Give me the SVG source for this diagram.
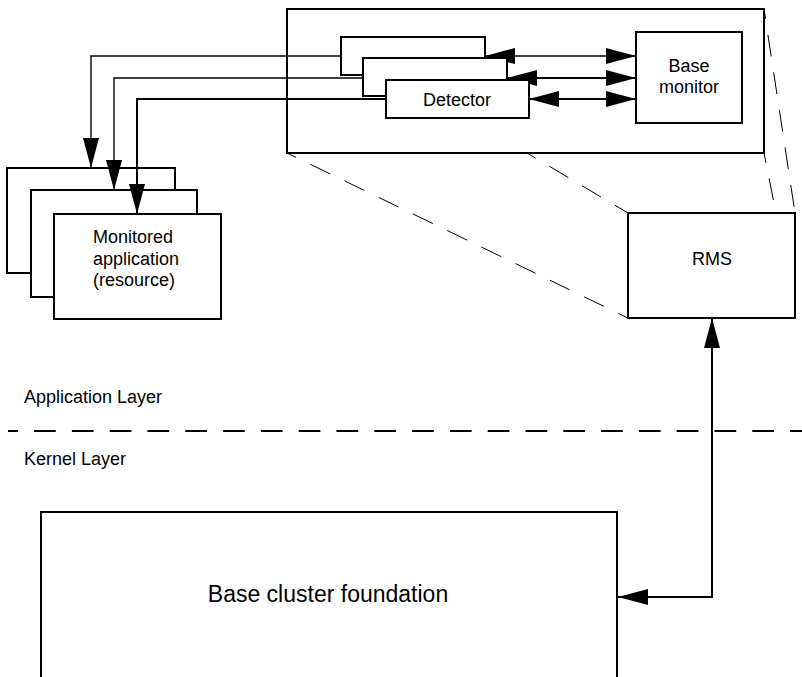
<svg xmlns="http://www.w3.org/2000/svg" width="802" height="677" viewBox="0 0 802 677">
<style>
  .box { fill: #fff; stroke: #000; stroke-width: 2; }
  .frame { fill: none; stroke: #000; stroke-width: 2; }
  .conn { fill: none; stroke: #000; stroke-width: 2; }
  .thin { stroke-width: 1.4; }
  .proj { fill: none; stroke: #000; stroke-width: 1; stroke-dasharray: 22 16; stroke-dashoffset: 12; }
  .layer { fill: none; stroke: #000; stroke-width: 2; stroke-dasharray: 21.7 16.1; stroke-dashoffset: 11.7; }
  text { font-family: "Liberation Sans", Arial, sans-serif; font-size: 18px; fill: #000; }
  .c { text-anchor: middle; }
</style>
<defs>
  <marker id="arrow" markerUnits="userSpaceOnUse" viewBox="0 0 30 16" markerWidth="30" markerHeight="16" refX="30" refY="8" orient="auto-start-reverse">
    <path d="M0,0 L30,8 L0,16 Z" fill="#000"/>
  </marker>
</defs>
<rect width="802" height="677" fill="#fff"/>

<g id="monitored-application">
  <rect class="box" x="7" y="168" width="168" height="105"/>
  <rect class="box" x="31" y="190" width="166" height="107"/>
  <rect class="box" x="54" y="214" width="167" height="105"/>
  <text x="93" y="243">Monitored</text>
  <text x="93" y="264.5">application</text>
  <text x="93" y="286">(resource)</text>
</g>

<g id="rms-expanded">
  <rect class="frame" x="287" y="9" width="477" height="144"/>
</g>

<g id="rms">
  <rect class="box" x="628" y="213" width="167" height="105"/>
  <text class="c" x="712" y="265">RMS</text>
</g>

<g id="base-cluster-foundation">
  <path class="frame" d="M41,690 V512 H617 V690"/>
  <text class="c" x="328" y="602" style="font-size:23px">Base cluster foundation</text>
</g>

<g id="zoom-lines">
  <line class="proj" x1="287" y1="153" x2="628" y2="318"/>
  <line class="proj" x1="527" y1="153" x2="628" y2="213"/>
  <line class="proj" x1="764" y1="9" x2="795" y2="213"/>
  <line class="proj" x1="764" y1="153" x2="776" y2="213"/>
</g>

<g id="layer-boundary">
  <line class="layer" x1="8" y1="431" x2="802" y2="431"/>
  <text x="24" y="403">Application Layer</text>
  <text x="24" y="465">Kernel Layer</text>
</g>

<g id="connectors">
  <path class="conn thin" d="M341,56 H91 V168" marker-end="url(#arrow)"/>
  <path class="conn thin" d="M363,78 H114 V190" marker-end="url(#arrow)"/>
  <path class="conn" d="M386,99 H137 V214" marker-end="url(#arrow)"/>
  <line class="conn thin" x1="485" y1="56" x2="636" y2="56" marker-start="url(#arrow)" marker-end="url(#arrow)"/>
  <line class="conn" x1="507" y1="78" x2="636" y2="78" marker-start="url(#arrow)" marker-end="url(#arrow)"/>
  <line class="conn" x1="529" y1="99" x2="636" y2="99" marker-start="url(#arrow)" marker-end="url(#arrow)"/>
  <path class="conn" d="M618,597 H712 V318" marker-start="url(#arrow)" marker-end="url(#arrow)"/>
</g>

<g id="detector">
  <rect class="box" x="341" y="37" width="144" height="38"/>
  <rect class="box" x="363" y="58" width="144" height="38"/>
  <rect class="box" x="386" y="80" width="143" height="38"/>
  <text class="c" x="457" y="106">Detector</text>
</g>

<g id="base-monitor">
  <rect class="box" x="636" y="32" width="106" height="91"/>
  <text class="c" x="689" y="71.5">Base</text>
  <text class="c" x="689" y="92.5">monitor</text>
</g>
</svg>
